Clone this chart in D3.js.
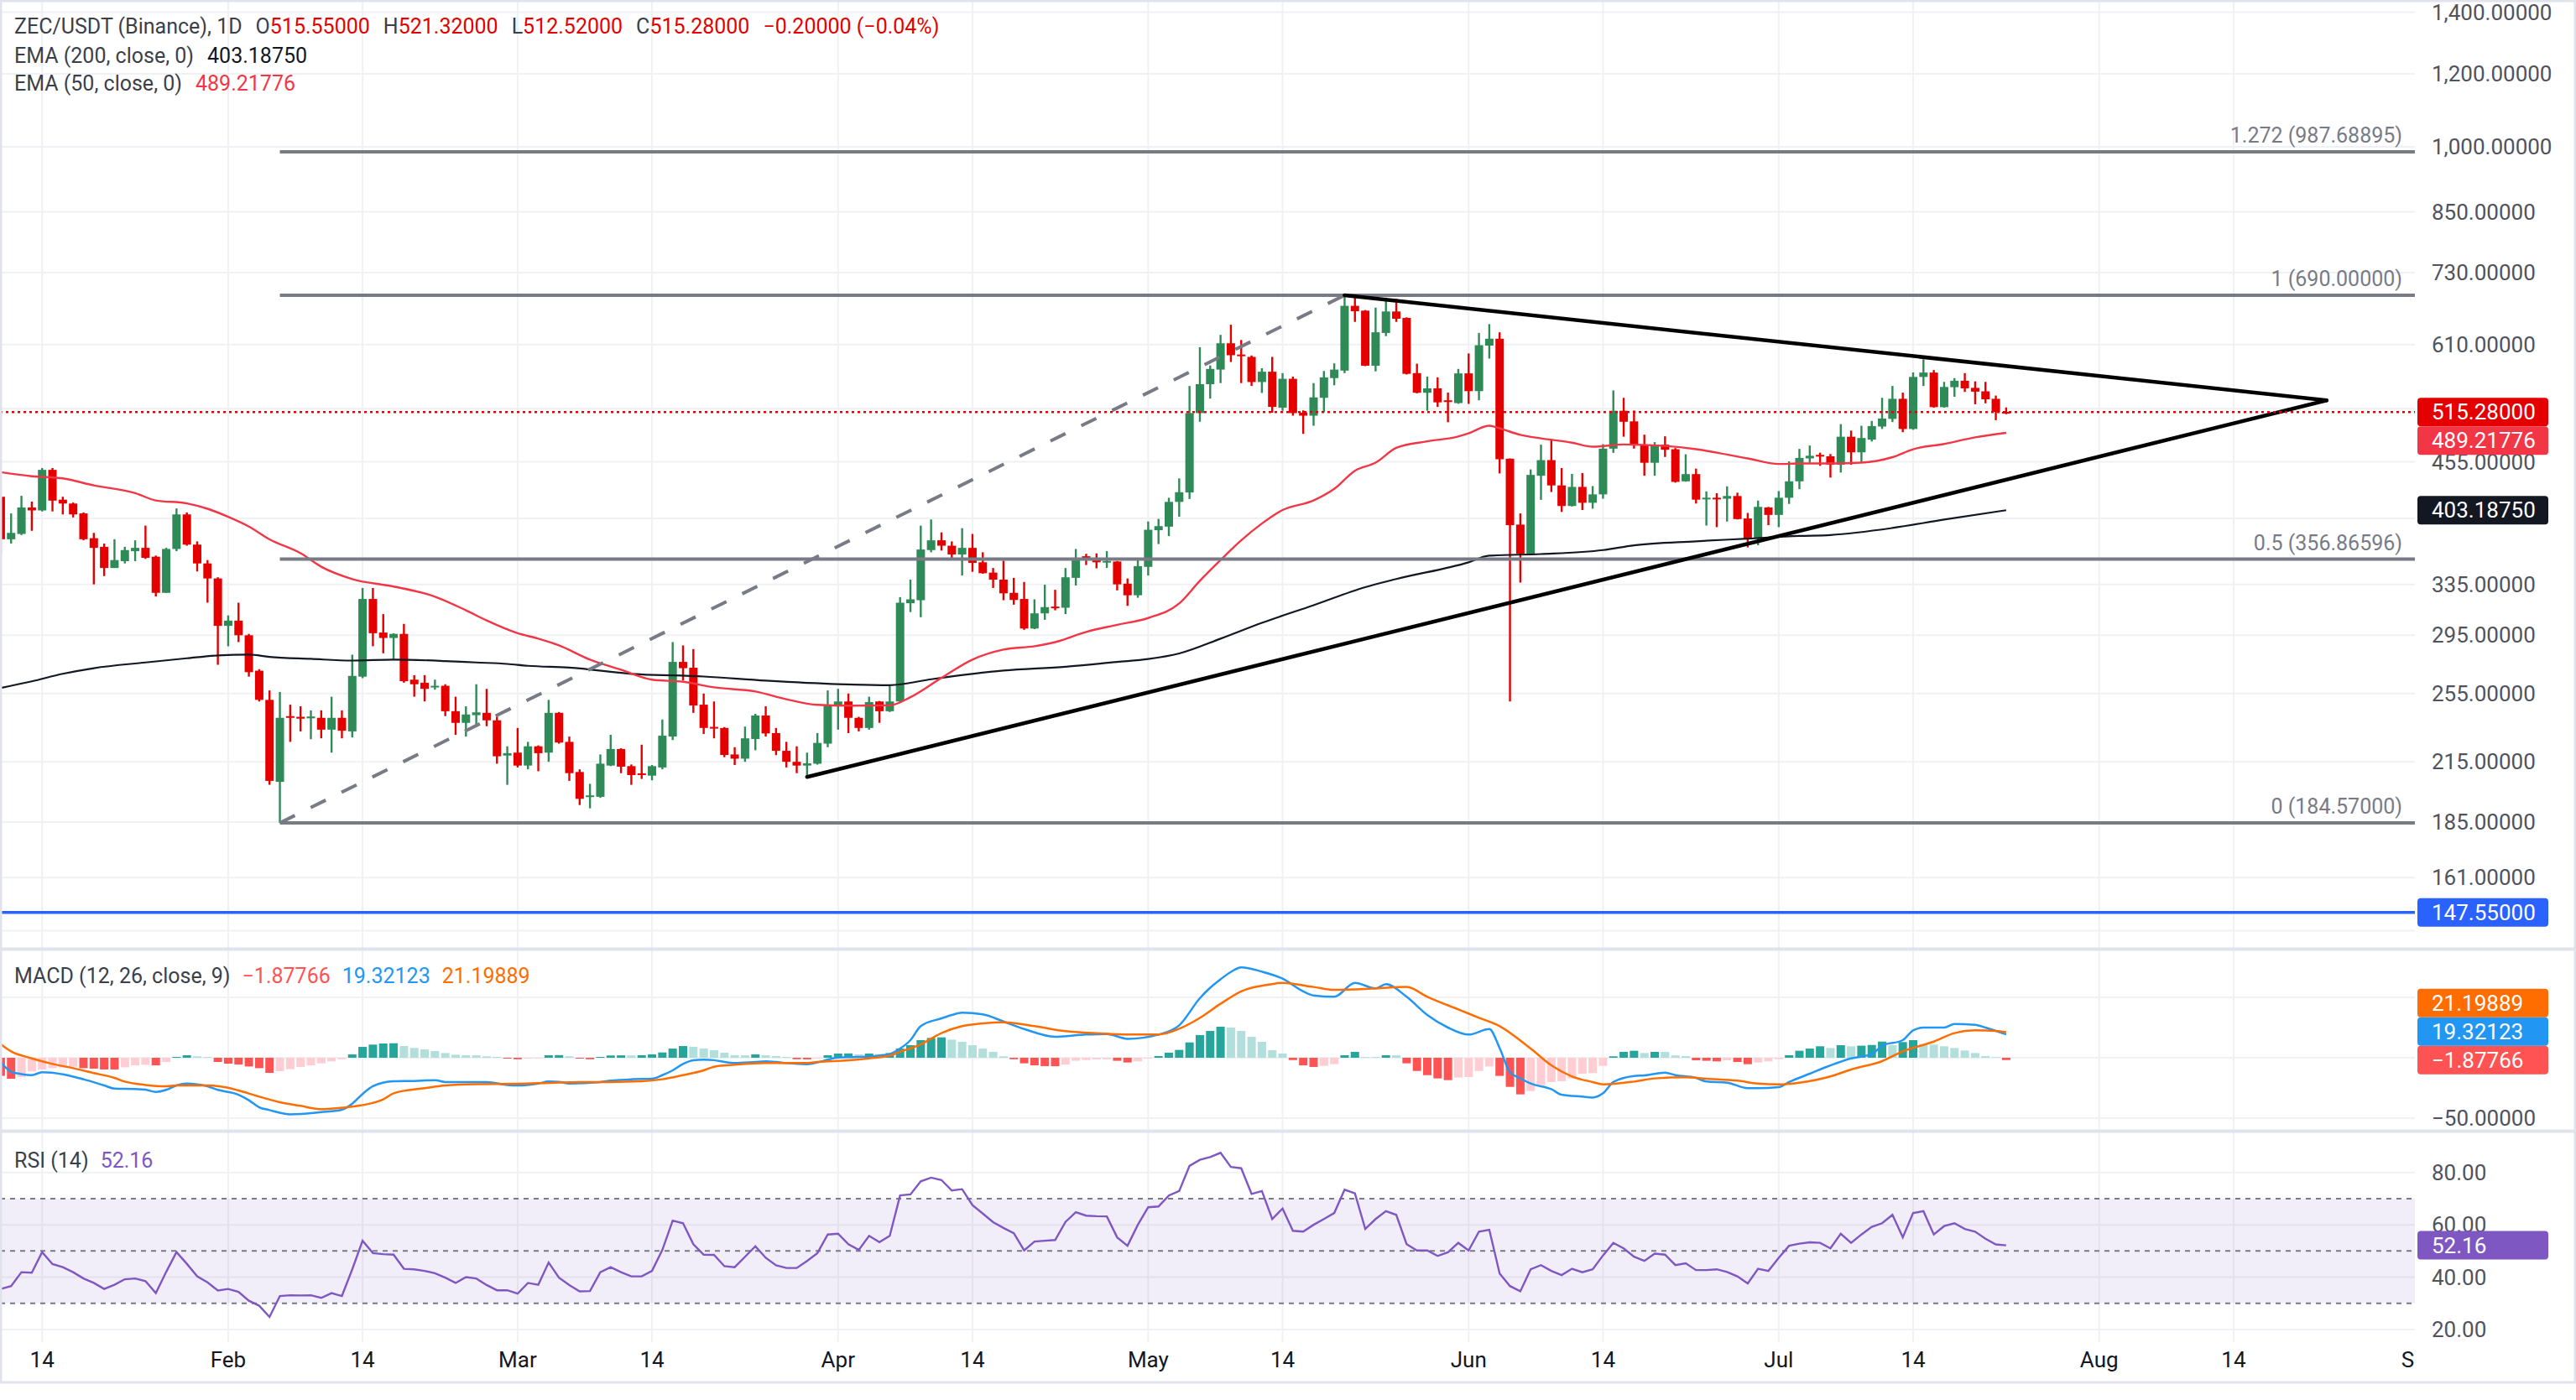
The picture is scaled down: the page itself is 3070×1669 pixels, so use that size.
<!DOCTYPE html>
<html>
<head>
<meta charset="utf-8">
<script src="https://cdn.jsdelivr.net/npm/d3@7"></script>
<style>
  html, body { margin: 0; padding: 0; background: #fff; }
  svg { display: block; font-family: Roboto, "Noto Sans", sans-serif; }
</style>
</head>
<body>
<svg id="chart" width="3070" height="1669"></svg>
<script>
// ---- data ----
// daily candles, first one is 2025-01-10 (day-of-year index 9)
const firstDay = 9;
const opens = [
  417, 375, 380, 406, 403, 446, 414, 410, 400, 376,
  368, 349, 355, 364, 367, 359, 328, 366, 399, 370,
  353, 340, 302, 306, 295, 270, 251, 204.5, 241, 240.6,
  239.7, 240, 233, 240, 232, 266, 323, 297, 293, 296,
  264, 262, 259, 260, 244, 237, 241.6, 243, 238.5, 218.4,
  220, 213, 223.5, 220, 243, 226, 209.6, 197, 197, 213,
  222, 212.7, 208.9, 207.7, 212, 229, 276, 272, 248, 234.6,
  234, 219, 216.7, 227.6, 241.4, 231, 221, 215, 213, 214,
  225, 247, 250, 240, 234, 250, 244, 250, 319.6, 322,
  365, 374, 369, 361, 367, 354, 345, 339, 328, 323,
  300, 311.6, 316.9, 316, 340.5, 359.4, 358, 354.2, 354.7, 335.6,
  326, 350, 383.6, 387, 411.7, 421.5, 514, 552.5, 573, 612,
  595, 591.5, 555.5, 570, 521, 560, 514.6, 510.7, 534, 561,
  571.6, 672, 664, 578.6, 628, 662.6, 652, 568, 540.8, 546.8,
  530.7, 527, 567.6, 543, 608.4, 619, 458.6, 389, 361.6, 439.5,
  457, 429, 407.5, 427.4, 410.8, 419.5, 470.3, 517, 503.5, 475,
  454, 475, 469.6, 433.4, 441.3, 415, 416, 415, 417.8, 395,
  375.4, 406, 398.5, 416, 433.4, 459, 463, 461.4, 451.7, 484.5,
  466, 481, 497, 506.6, 532.7, 494, 562.6, 568.8, 521.7, 548.4,
  557.3, 547.5, 542.7, 532.7, 515.55
];
const highs = [
  418, 400, 418, 412, 448, 448, 417, 411, 401, 381,
  371, 375, 368, 374, 388, 360, 367, 405, 401, 373,
  356, 341, 310, 320, 296, 271, 257, 256, 248, 247,
  244.5, 244.5, 253, 244.5, 281, 332, 332, 311, 296.5, 303.5,
  267, 267, 264, 261, 253, 247, 261, 258, 241, 223.5,
  234, 226, 224, 251, 243.5, 229, 211, 203.5, 219, 230,
  222.4, 213.6, 224.4, 213.3, 239, 290, 287.6, 285, 255, 250,
  234.5, 223, 234.8, 242.4, 247, 234, 226, 223.5, 220, 231,
  257, 258, 255, 240.6, 253, 250.3, 260, 324.5, 339, 388,
  394, 381.5, 373, 385.5, 380, 363, 349, 355.5, 340.5, 337,
  322.7, 334.7, 330.5, 349, 366, 361.6, 362, 364, 355.2, 340,
  356, 392, 394.6, 416, 436.6, 550, 606, 579, 625, 641,
  617, 593.6, 575, 591.5, 568, 563, 517.6, 554, 571, 582,
  690, 686, 665, 669, 686, 684, 653, 581.6, 563, 562,
  541, 574, 596.6, 628, 642, 629, 459, 400, 446.5, 475,
  480.5, 448, 441.6, 442.5, 428.3, 475.5, 544, 534, 517.3, 487,
  478, 485, 471, 463.7, 447.4, 422.6, 420.7, 428, 421.3, 400.5,
  413, 406.6, 423, 455.6, 470, 474, 465.6, 464, 500, 492,
  498, 504, 534, 550, 541, 569, 588, 572.4, 555.7, 561,
  568, 556.4, 555.7, 537, 521.32
];
const lows = [
  361, 371, 379, 383, 402, 402, 399, 396, 374, 335,
  342, 349, 353, 355, 357, 325, 328, 364, 369, 346,
  320, 274, 287, 290, 266, 250, 203, 184.57, 226, 232,
  227.5, 228, 220, 228, 228.5, 265, 287, 282, 278, 262,
  253, 250, 257.5, 241, 230, 229, 235, 235, 214, 203,
  212, 211, 210, 215, 225, 205, 193, 191.4, 196.5, 212.7,
  209, 203, 206, 205.3, 211, 227, 263.4, 243, 230.5, 228,
  217.5, 213.3, 215, 221.3, 229, 218.6, 212, 209, 207, 213.5,
  223, 233, 231, 232, 233, 237, 243.5, 249, 312.6, 308.6,
  363, 364.5, 356, 342.5, 345.7, 344, 332, 322, 318.4, 299,
  299.5, 306.6, 314, 311, 334, 351.6, 348.7, 349, 330, 317.5,
  324, 342.5, 370.5, 378, 396.7, 414.7, 503, 533, 554, 584,
  554, 550, 540.5, 514.5, 517, 510.7, 488, 498, 515, 551,
  568, 645.6, 578, 570.5, 623, 645.6, 566, 540, 517, 522,
  502.4, 526, 526, 530.7, 589, 442, 250, 336.5, 360.8, 413.8,
  422, 401.5, 407, 403.4, 404.8, 415, 465.4, 484.5, 470.3, 439.5,
  439.5, 460.6, 432, 433, 410, 388, 386.5, 392, 394, 367.4,
  369.4, 388.4, 386.5, 409.6, 425, 454, 450.5, 437.5, 443, 451.7,
  454, 478.8, 494, 502.6, 490, 493, 550, 521, 521, 535.4,
  541.9, 525.5, 526.7, 505, 512.52
];
const closes = [
  375, 381, 406, 403, 446, 413, 410, 399, 375, 367,
  349, 356, 365, 367, 358, 328, 366, 399, 370, 353,
  340, 302, 306, 295, 269, 251, 205, 240, 240, 239.5,
  240.8, 233, 240, 232.4, 266.5, 323, 296.5, 293, 296, 263,
  261, 258, 260, 244, 237, 242, 243.3, 238.5, 218, 219.7,
  213, 223.5, 219.7, 243, 225.6, 209, 196, 197.7, 214, 222,
  212.4, 208, 208.1, 212.7, 229.5, 276, 271.7, 247.5, 234, 233.8,
  218.7, 216.7, 228, 241.4, 230.8, 221, 215, 213, 214.2, 225.4,
  247.5, 250, 240, 234, 249.6, 244, 250, 320, 322.7, 365.5,
  374, 369, 361, 367, 353.5, 344.5, 339, 327.6, 322.2, 300,
  311.6, 316.5, 315.8, 341, 358, 358.2, 354, 355.2, 335, 326,
  350.6, 384, 387.5, 411.7, 421.8, 514, 552.5, 574, 612, 594,
  593, 555.5, 570, 522, 560, 514, 510.7, 534.6, 562, 573,
  672, 663, 578.6, 629, 662.6, 650.7, 567, 540.8, 546.8, 528,
  528.4, 567.6, 543, 609, 619, 458, 388.4, 361.6, 440.4, 457,
  429, 407.5, 427.4, 410.8, 419.5, 470.3, 517, 503, 475, 454,
  475, 469, 432.8, 441.3, 414, 416, 415, 417.8, 394.4, 375.4,
  406.6, 398.5, 416, 433.4, 459.5, 462, 461.4, 451.7, 484.5, 466,
  483, 497.6, 507, 532.7, 494, 562.6, 568.8, 521.7, 548.7, 557.3,
  546.8, 542.3, 532, 515.48, 515.28
];

// moving averages, [day-of-year, value]
const ema200 = [[9,258.6],[12,262.9],[15,267.9],[18,271.7],[23,275.6],[27,278.5],[30,280.5],[33,281.1],[35,279.5],
  [39,278.1],[43,276.9],[47,277.6],[52,276.6],[55,275.6],[58,274.6],[60,273.3],[64,272.1],[70,267.9],[77,266.1],
  [83,263.4],[90,261.1],[95,260.4],[99,264.3],[106,270.1],[112,272.7],[117,276],[120,278],[123,281.9],[127,292.5],
  [131,304.3],[136,318],[141,332.7],[144,339.5],[151,354],[153,359.9],[158,361.4],[164,365],[167,369.4],[173,373.1],
  [178,375.6],[183,378.1],[186,379],[192,385.7],[197,393.9],[203,403.1875]];
const ema50 = [[9,443.5],[12,439],[15,436.6],[18,429],[22,420.8],[24,413.2],[27,410.2],[29,404.7],[31,396.6],
  [33,387.1],[35,374.9],[38,362.1],[40,350.1],[43,339.5],[47,333.2],[51,324.9],[54,314],[56,306.1],[59,296.5],
  [61,292.5],[63,287.6],[66,277.6],[69,270.7],[72,264],[75,262.6],[78,259],[82,256.3],[85,251.4],[88,247.9],
  [91,247.4],[95,247.6],[97,252.7],[100,265.2],[103,277.6],[106,284.6],[109,287],[111,290],[114,297.5],[117,302.8],
  [120,308],[123,319.4],[125,338],[127,356],[129,374],[131,390],[133,403.4],[136,413.2],[138,425.3],[140,445],
  [142,454.1],[144,471.2],[147,479],[150,484.8],[151,488.7],[153,498],[154,494.8],[156,486.8],[158,482.5],
  [161,477.4],[163,472.6],[166,475.2],[170,473.5],[173,469.6],[175,465.6],[178,458.9],[181,452.6],[183,453.2],
  [186,453.2],[189,454.1],[192,460.4],[194,469.6],[197,475.9],[200,483.8],[203,489.21776]];

// MACD (12, 26, 9)
const macdLine = [[9,-3.9],[10,-11.5],[11,-13.5],[12,-14.4],[13,-12],[15,-13.7],[17,-17.8],[19,-22.9],[20,-25.5],
  [22,-25.9],[23,-26.4],[24,-28.3],[25,-26.6],[26,-22.9],[27,-21.3],[28,-22],[29,-23.6],[30,-26.6],[32,-30.6],
  [33,-35.2],[34,-41],[35,-43.3],[37,-46.8],[40,-45],[42,-43],[43,-38],[44,-30],[45,-23.6],[47,-19.5],[49,-19.2],
  [51,-18.5],[52,-20.1],[54,-20.1],[56,-20.1],[58,-22.5],[59,-22.9],[61,-21.3],[62,-19.7],[63,-20],[64,-21.3],
  [67,-20.1],[68,-19],[70,-17.8],[72,-17.4],[73,-14.4],[74,-10.4],[75,-5.1],[76,-2.1],[77,-1.6],[78,-2],[79,-3.5],
  [80,-4.4],[82,-3.5],[83,-3],[84,-3.5],[85,-4.4],[87,-5.3],[88,-3.9],[89,-1.6],[90,0.2],[92,0.7],[93,1.1],[94,1.8],
  [95,3],[96,7.6],[97,14.6],[98,26.2],[100,32.6],[101,35.4],[102,37.3],[104,35.9],[106,30],[108,23.8],[111,17.4],
  [114,19.2],[116,19.7],[118,15.7],[121,19.2],[123,26.8],[125,49.3],[126,58],[127,65],[128,71],[129,74.8],[131,71.3],
  [133,65.5],[135,55],[136,51.6],[138,50.5],[140,62],[142,57.4],[143,60.9],[145,50.5],[147,35.4],[149,25],[151,19.2],
  [153,23.8],[154,8],[155,-12],[156,-17],[157,-21.3],[159,-26],[160,-30.6],[162,-32.2],[163,-32.9],[164,-29.4],
  [165,-20.1],[167,-15.1],[168,-14.6],[170,-12.3],[171,-14.4],[173,-16.7],[174,-19.7],[176,-20.6],[178,-25.2],
  [179,-25.2],[181,-24.3],[182,-20.1],[184,-13.2],[186,-6.3],[188,-0.5],[190,3],[191,9.9],[193,14.6],[194,22.7],
  [195,25],[197,25],[198,28],[200,27.3],[201,25],[203,19.32123]];
const signalLine = [[9,11.1],[10,5.3],[12,-0.5],[14,-5.1],[16,-8.6],[18,-12.7],[20,-16.7],[21,-19.7],[23,-22.5],
  [25,-23.6],[26,-22.9],[29,-22.9],[31,-24.8],[32,-27.1],[34,-32.2],[36,-36.8],[38,-39.8],[40,-42.6],[42,-41.4],
  [43,-40.5],[46,-34.5],[47,-29.4],[50,-25.2],[52,-22.9],[55,-21.8],[59,-21.5],[62,-20.8],[65,-20.1],[68,-20.1],
  [71,-19.5],[73,-17.8],[75,-14.4],[77,-10.4],[78,-7.4],[80,-5.8],[83,-4.4],[87,-4.4],[88,-3.5],[91,-2.1],[93,-0.5],
  [95,1.8],[96,4.9],[98,11.1],[100,20.4],[102,26.2],[104,28.5],[106,29.4],[109,26.2],[112,22],[115,20.4],[118,19.2],
  [121,19.2],[123,24],[125,33],[127,44.7],[129,55],[132,61],[133,62],[136,58.6],[138,56.2],[142,57.4],[145,58.6],
  [147,50.5],[150,40],[152,33.1],[154,26.2],[157,7.6],[159,-6.3],[161,-15.5],[163,-20.1],[164,-22],[167,-19.7],
  [169,-17.1],[172,-16.2],[174,-17.4],[177,-19],[179,-21.3],[181,-22],[183,-20.6],[186,-15.5],[188,-9.7],
  [191,-2.8],[193,5.3],[196,13.4],[198,20.4],[200,22.7],[202,22.2],[203,21.19889]];
// histogram, one bar per candle
const macdHist = [
  -15, -17.4, -16, -11.3, -9.7, -8.6, -8.1, -7.4, -8.6, -9,
  -9.7, -9.7, -7.9, -6.3, -5.8, -6.3, -3.5, 0.7, 2.1, 1.2,
  0.7, -3.5, -4.9, -5.6, -7.2, -8.6, -12.5, -11.1, -9.5, -7.6,
  -6.3, -4.6, -3, -1.2, 2.8, 9, 10.9, 11.8, 12, 9.7,
  8.1, 6.9, 5.6, 3.9, 2.5, 2.1, 2, 1.2, 0.7, -0.7,
  -1.2, -0.7, -0.6, 2.1, 2.2, 1.2, -0.7, -1.2, 0.7, 1.9,
  2, 1.9, 2.1, 2.8, 4.4, 7.6, 9.7, 9, 7.6, 6.3,
  4.2, 2.1, 2, 2.8, 2.1, 1.4, 0.7, -1.2, -1.3, -0.7,
  2.1, 3.5, 3.6, 2.8, 3.5, 3, 3.9, 7.6, 10.4, 14.6,
  16.4, 16.9, 15, 13.2, 10.4, 7.6, 4.9, 1.2, -1.2, -4.6,
  -6.3, -6.9, -7, -5.6, -2.5, -1.9, -1.4, -1.3, -2.5, -3.9,
  -3, -0.7, 1.4, 4.2, 6.5, 12.7, 18.8, 22.2, 25.7, 25,
  22.2, 17.4, 13.2, 6.3, 3.5, -1.9, -6.3, -7.6, -6.7, -5.3,
  2.1, 4.9, 0.7, 0.6, 2.1, 2, -4.6, -10.9, -14.4, -17.1,
  -18.5, -16.4, -16, -10.9, -7.2, -15, -24.1, -30.3, -27.5, -22.5,
  -20.1, -19.4, -17.1, -13.2, -12.7, -6.7, 1.2, 4.9, 5.8, 3.9,
  4.9, 4.8, 1.9, 1.4, -2.1, -2.5, -3, -2.1, -3.5, -5.3,
  -3.9, -3, -1.2, 2.1, 5.8, 7.6, 9.5, 8.1, 10.4, 9.5,
  10, 10.6, 13.4, 10.4, 13, 14.6, 11.3, 10.9, 9.5, 8.1,
  6, 3.9, 1.4, 0.5, -1.87766
];
// RSI (14), one value per candle
const rsi = [
  35.5, 36.6, 41.9, 41.7, 49.6, 45, 43.8, 41.9, 39.5, 37.8,
  35.5, 37.1, 39.2, 39.5, 38.5, 33.9, 42, 49.6, 45.1, 40.3,
  38, 34.9, 35.5, 34.4, 31, 29.1, 24.8, 32.8, 33.1, 33,
  33.1, 32.1, 33.9, 32.8, 43, 53.9, 49.2, 48.8, 48.6, 43.2,
  43, 42.4, 41.5, 39.8, 37.8, 40, 39.5, 37, 35, 35,
  33.7, 37.8, 37.1, 45.6, 39.8, 37, 34.6, 34.7, 41.9, 43.8,
  41.9, 40.3, 40.3, 42.4, 50.4, 61.6, 60.6, 52.6, 48.6, 48.5,
  44.2, 43.8, 47.8, 51.8, 47.4, 44.5, 43.5, 43.5, 46.2, 49.2,
  56.3, 56.6, 52.6, 50.4, 55.8, 53.4, 55.8, 71.2, 71.6, 76.6,
  78, 77.1, 73.1, 73.6, 67.5, 64.3, 61, 58.8, 56.8, 50.2,
  53.6, 53.9, 54.2, 61.1, 64.8, 63.5, 63.3, 63.2, 55.2, 52,
  60, 66.7, 67, 71.2, 72.9, 82.5, 84.8, 85.9, 87.5, 82.1,
  81.6, 71.8, 72.9, 62.2, 66.2, 57.7, 57.4, 60, 62.2, 64.5,
  73.4, 72, 58.4, 62.2, 65.2, 63.8, 52.6, 50.2, 50.2, 48.1,
  49.5, 53.1, 50.2, 57.4, 58.1, 41.4, 36.6, 34.6, 43, 44.6,
  42.4, 40.8, 43.2, 41.9, 43, 48.3, 53.1, 51, 47.8, 46.2,
  49, 48.6, 44.6, 45.3, 42.7, 42.7, 43, 42, 40.3, 37.6,
  43.2, 42.4, 47.4, 52, 52.8, 53.3, 53.1, 51, 56.6, 53.1,
  56.3, 59.2, 60.6, 63.8, 55.2, 64.5, 65.2, 56.3, 59.5, 60.6,
  58.4, 57.4, 54.7, 52.5, 52.16
];

// drawings
const fibRatios = [0, 0.5, 1, 1.272];
const fibPrices = [184.57, 356.86596, 690, 987.68895];
const fibAnchor = [[36, 184.57], [139, 690]];
const trendUpper = [[139, 690], [234, 530.7]];
const trendLower = [[87, 207], [234, 530.7]];
const supportLevel = 147.55;

// axes
const priceTicks = [1400, 1200, 1000, 850, 730, 610, 520, 455, 395, 335, 295, 255, 215, 185, 161, 141];
const macdTicks = [50, 0, -50];
const rsiTicks = [80, 60, 40, 20];
const timeTicks = ["2025-01-14", "2025-02-01", "2025-02-14", "2025-03-01", "2025-03-14", "2025-04-01",
  "2025-04-14", "2025-05-01", "2025-05-14", "2025-06-01", "2025-06-14", "2025-07-01", "2025-07-14",
  "2025-08-01", "2025-08-14", "2025-09-01"];

// ---- layout ----
const W = 3070, H = 1669, plotR = 2878;
const pricePane = [0, 1130], macdPane = [1133, 1347], rsiPane = [1350, 1600];
const up = "#2e8b57", down = "#e50000";
const txt = "#131722", axisTxt = "#50535e", grid = "#f0f1f4";
const badgeH = 34;

const svg = d3.select("#chart");
const day = n => new Date(Date.UTC(2025, 0, 1 + n));
const x = d3.scaleUtc().domain([day(13), day(194)]).range([50.2, 2280]);
const y = d3.scaleLog().domain([184.57, 690]).range([981, 352]);
const yM = d3.scaleLinear().domain([-50, 50]).range([1333, 1189]);
const yR = d3.scaleLinear().domain([20, 80]).range([1585, 1397.7]);
const xd = n => x(day(n));

const defs = svg.append("defs");
function clip(id, pane) {
  defs.append("clipPath").attr("id", id).append("rect")
    .attr("x", 0).attr("y", pane[0]).attr("width", plotR).attr("height", pane[1] - pane[0]);
  return svg.append("g").attr("clip-path", `url(#${id})`);
}
const gPrice = clip("cp", pricePane), gMacd = clip("cm", macdPane), gRsi = clip("cr", rsiPane);

// frame and pane separators
svg.append("rect").attr("x", 1).attr("y", 1).attr("width", W - 2).attr("height", 1647)
  .attr("fill", "none").attr("stroke", "#e0e3eb").attr("stroke-width", 3);
[1131.5, 1348.5].forEach(v => svg.append("line").attr("x1", 0).attr("x2", W).attr("y1", v).attr("y2", v)
  .attr("stroke", "#e0e3eb").attr("stroke-width", 4));

// vertical grid
const tDates = timeTicks.map(s => new Date(s + "T00:00:00Z"));
[[gPrice, pricePane], [gMacd, macdPane], [gRsi, rsiPane]].forEach(([g, p]) => {
  g.selectAll(null).data(tDates).join("line")
    .attr("x1", d => x(d)).attr("x2", d => x(d)).attr("y1", p[0]).attr("y2", p[1])
    .attr("stroke", grid).attr("stroke-width", 2);
});
// horizontal grid
gPrice.selectAll(null).data(priceTicks).join("line")
  .attr("x1", 0).attr("x2", plotR).attr("y1", d => y(d)).attr("y2", d => y(d))
  .attr("stroke", grid).attr("stroke-width", 2);
gMacd.selectAll(null).data(macdTicks).join("line")
  .attr("x1", 0).attr("x2", plotR).attr("y1", d => yM(d)).attr("y2", d => yM(d))
  .attr("stroke", grid).attr("stroke-width", 2);
gRsi.selectAll(null).data(rsiTicks).join("line")
  .attr("x1", 0).attr("x2", plotR).attr("y1", d => yR(d)).attr("y2", d => yR(d))
  .attr("stroke", grid).attr("stroke-width", 2);

// ---- price pane ----
const candles = opens.map((o, i) => ({ d: firstDay + i, o, h: highs[i], l: lows[i], c: closes[i] }));
const cg = gPrice.append("g");
cg.selectAll(null).data(candles).join("line")
  .attr("x1", d => xd(d.d)).attr("x2", d => xd(d.d))
  .attr("y1", d => y(d.h)).attr("y2", d => y(d.l))
  .attr("stroke", d => d.c >= d.o ? up : down).attr("stroke-width", 2.4);
cg.selectAll(null).data(candles).join("rect")
  .attr("x", d => xd(d.d) - 5).attr("width", 10)
  .attr("y", d => y(Math.max(d.o, d.c)))
  .attr("height", d => Math.max(2, Math.abs(y(d.o) - y(d.c))))
  .attr("fill", d => d.c >= d.o ? up : down);

const smooth = d3.line().x(p => xd(p[0])).curve(d3.curveMonotoneX);
gPrice.append("path").attr("d", smooth.y(p => y(p[1]))(ema200))
  .attr("fill", "none").attr("stroke", "#131722").attr("stroke-width", 2.2);
gPrice.append("path").attr("d", smooth.y(p => y(p[1]))(ema50))
  .attr("fill", "none").attr("stroke", "#f23645").attr("stroke-width", 2.4);

// fibonacci retracement
const fibX0 = xd(fibAnchor[0][0]);
fibPrices.forEach((p, i) => {
  gPrice.append("line").attr("x1", fibX0).attr("x2", plotR).attr("y1", y(p)).attr("y2", y(p))
    .attr("stroke", "#787b86").attr("stroke-width", 4);
  gPrice.append("text").attr("x", 2863).attr("y", y(p) - 11).attr("text-anchor", "end")
    .attr("font-size", 25).attr("fill", "#787b86")
    .text(`${fibRatios[i]} (${d3.format(".5f")(p)})`);
});
gPrice.append("line")
  .attr("x1", xd(fibAnchor[0][0])).attr("y1", y(fibAnchor[0][1]))
  .attr("x2", xd(fibAnchor[1][0])).attr("y2", y(fibAnchor[1][1]))
  .attr("stroke", "#787b86").attr("stroke-width", 4).attr("stroke-dasharray", "20,21");

// triangle
[trendUpper, trendLower].forEach(t => gPrice.append("line")
  .attr("x1", xd(t[0][0])).attr("y1", y(t[0][1])).attr("x2", xd(t[1][0])).attr("y2", y(t[1][1]))
  .attr("stroke", "#000").attr("stroke-width", 4.5).attr("stroke-linecap", "round"));

// support and last-price lines
gPrice.append("line").attr("x1", 0).attr("x2", plotR).attr("y1", y(supportLevel)).attr("y2", y(supportLevel))
  .attr("stroke", "#2962ff").attr("stroke-width", 3.5);
const last = candles[candles.length - 1];
gPrice.append("line").attr("x1", 0).attr("x2", plotR).attr("y1", y(last.c)).attr("y2", y(last.c))
  .attr("stroke", down).attr("stroke-width", 2.5).attr("stroke-dasharray", "3,4");

// ---- MACD pane ----
const hist = macdHist.map((v, i) => ({ d: firstDay + i, v, prev: i ? macdHist[i - 1] : v }));
gMacd.selectAll(null).data(hist).join("rect")
  .attr("x", d => xd(d.d) - 5).attr("width", 10)
  .attr("y", d => Math.min(yM(0), yM(d.v))).attr("height", d => Math.abs(yM(d.v) - yM(0)))
  .attr("fill", d => d.v >= 0 ? (d.v >= d.prev ? "#26a69a" : "#b2dfdb") : (d.v <= d.prev ? "#ff5252" : "#ffcdd2"));
gMacd.append("path").attr("d", smooth.y(p => yM(p[1]))(macdLine))
  .attr("fill", "none").attr("stroke", "#2196f3").attr("stroke-width", 2.5);
gMacd.append("path").attr("d", smooth.y(p => yM(p[1]))(signalLine))
  .attr("fill", "none").attr("stroke", "#ff6d00").attr("stroke-width", 2.5);

// ---- RSI pane ----
gRsi.append("rect").attr("x", 0).attr("width", plotR).attr("y", yR(70)).attr("height", yR(30) - yR(70))
  .attr("fill", "rgba(126,87,194,0.1)");
[70, 50, 30].forEach(v => gRsi.append("line").attr("x1", 0).attr("x2", plotR).attr("y1", yR(v)).attr("y2", yR(v))
  .attr("stroke", "#787b86").attr("stroke-width", 2).attr("stroke-dasharray", "6,6"));
gRsi.append("path").attr("d", d3.line().x((v, i) => xd(firstDay + i)).y(v => yR(v))(rsi))
  .attr("fill", "none").attr("stroke", "#7e57c2").attr("stroke-width", 2.4);

// ---- value badges (laid out first so the axis labels they cover can be skipped) ----
const fmt5 = d3.format(",.5f");
const minus = s => s.replace("-", "\u2212");
function stack(items, dir) {
  items.forEach(b => b.y = b.pos);
  items.sort((a, b) => dir * (a.y - b.y));
  for (let i = 1; i < items.length; i++) {
    const p = items[i - 1];
    if (dir > 0 && items[i].y < p.y + badgeH) items[i].y = p.y + badgeH;
    if (dir < 0 && items[i].y > p.y - badgeH) items[i].y = p.y - badgeH;
  }
  return items;
}
const mLast = macdLine[macdLine.length - 1][1], sLast = signalLine[signalLine.length - 1][1];
const hLast = macdHist[macdHist.length - 1], rLast = rsi[rsi.length - 1];
const e50Last = ema50[ema50.length - 1][1], e200Last = ema200[ema200.length - 1][1];
const allBadges = [
  ...stack([
    { pos: y(last.c), color: down, label: fmt5(last.c) },
    { pos: y(e50Last), color: "#f23645", label: fmt5(e50Last) },
    { pos: y(e200Last), color: "#131722", label: fmt5(e200Last) },
    { pos: y(supportLevel), color: "#2962ff", label: fmt5(supportLevel) }
  ], 1),
  ...stack([
    { pos: yM(hLast), color: "#ff5252", label: minus(fmt5(hLast)) },
    { pos: yM(mLast), color: "#2196f3", label: fmt5(mLast) },
    { pos: yM(sLast), color: "#ff6d00", label: fmt5(sLast) }
  ], -1),
  ...stack([{ pos: yR(rLast), color: "#7e57c2", label: d3.format(".2f")(rLast) }], 1)
];
const free = yy => allBadges.every(b => Math.abs(b.y - yy) > badgeH / 2 + 6);

// ---- axes ----
svg.selectAll(null).data(priceTicks.filter(d => free(y(d)))).join("text")
  .attr("x", 2898).attr("y", d => y(d)).attr("dominant-baseline", "central")
  .attr("font-size", 26).attr("fill", axisTxt).text(d => fmt5(d));
svg.selectAll(null).data(macdTicks.filter(d => free(yM(d)))).join("text")
  .attr("x", 2898).attr("y", d => yM(d)).attr("dominant-baseline", "central")
  .attr("font-size", 26).attr("fill", axisTxt).text(d => minus(fmt5(d)));
svg.selectAll(null).data(rsiTicks.filter(d => free(yR(d)))).join("text")
  .attr("x", 2898).attr("y", d => yR(d)).attr("dominant-baseline", "central")
  .attr("font-size", 26).attr("fill", axisTxt).text(d => d3.format(".2f")(d));

defs.append("clipPath").attr("id", "ct").append("rect").attr("x", 0).attr("y", 1600).attr("width", plotR).attr("height", 48);
const tAxis = svg.append("g").attr("clip-path", "url(#ct)");
tAxis.selectAll(null).data(tDates).join("text")
  .attr("x", d => x(d)).attr("y", 1621).attr("text-anchor", "middle").attr("dominant-baseline", "central")
  .attr("font-size", 26).attr("fill", txt)
  .text(d => d.getUTCDate() === 1 ? d3.utcFormat("%b")(d) : d3.utcFormat("%-d")(d));

allBadges.forEach(b => {
  svg.append("rect").attr("x", 2881).attr("y", b.y - badgeH / 2).attr("width", 156).attr("height", badgeH)
    .attr("rx", 4).attr("fill", b.color);
  svg.append("text").attr("x", 2898).attr("y", b.y).attr("dominant-baseline", "central")
    .attr("font-size", 26).attr("fill", "#fff").text(b.label);
});

// ---- legends ----
function legend(yc, parts) {
  const t = svg.append("text").attr("x", 17).attr("y", yc).attr("dominant-baseline", "central").attr("font-size", 25);
  parts.forEach(([s, col, dx]) => t.append("tspan").attr("fill", col).attr("dx", dx || 0).text(s));
}
const dark = "#3b3f4a";
const prevClose = closes[closes.length - 2];
legend(31, [["ZEC/USDT (Binance), 1D", dark], ["O", dark, 16], [opens[opens.length - 1].toFixed(5), down],
  ["H", dark, 16], [highs[highs.length - 1].toFixed(5), down], ["L", dark, 16], [lows[lows.length - 1].toFixed(5), down],
  ["C", dark, 16], [last.c.toFixed(5), down],
  [minus((last.c - prevClose).toFixed(5)) + " (" + minus(((last.c / prevClose - 1) * 100).toFixed(2)) + "%)", down, 16]]);
legend(66, [["EMA (200, close, 0)", dark], [e200Last.toFixed(5), "#131722", 16]]);
legend(99, [["EMA (50, close, 0)", dark], [e50Last.toFixed(5), "#f23645", 16]]);
legend(1163, [["MACD (12, 26, close, 9)", dark], [minus(hLast.toFixed(5)), "#ff5252", 14],
  [mLast.toFixed(5), "#2196f3", 14], [sLast.toFixed(5), "#ff6d00", 14]]);
legend(1383, [["RSI (14)", dark], [rLast.toFixed(2), "#7e57c2", 14]]);
</script>
</body>
</html>
